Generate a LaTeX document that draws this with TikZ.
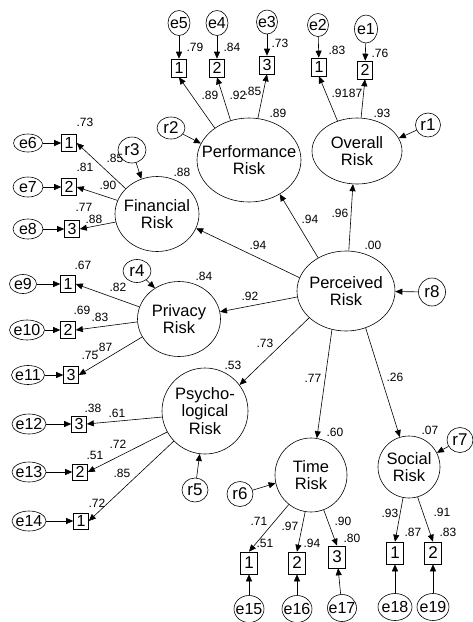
\documentclass[tikz,border=0pt]{standalone}
\usepackage{fontspec}
\setmainfont{Liberation Sans}
\usetikzlibrary{arrows.meta,shapes.geometric}
\begin{document}
\begin{tikzpicture}[x=1pt,y=-1pt,
  lat/.style={draw, ellipse, inner sep=0pt, line width=0.6pt},
  lt/.style={font=\fontsize{16.5}{17.5}\selectfont, align=center, inner sep=0pt},
  obs/.style={draw, rectangle, inner sep=0pt, line width=0.6pt, minimum width=15, minimum height=18, font=\fontsize{16}{16}\selectfont},
  obsb/.style={obs, minimum width=17, minimum height=22, font=\fontsize{17}{17}\selectfont},
  err/.style={draw, ellipse, inner sep=0pt, line width=0.6pt},
  et/.style={font=\fontsize{16}{16}\selectfont, inner sep=0pt},
  rt/.style={font=\fontsize{17}{17}\selectfont, inner sep=0pt},
  lab/.style={font=\fontsize{12}{12}\selectfont, inner sep=0pt},
  arr/.style={-{Triangle[length=7pt,width=6pt]}, line width=0.6pt}]
\useasboundingbox (0,0) rectangle (473,622);
% latent variables
\node[lat, minimum width=104, minimum height=84, label={[lt]center:Performance\\Risk}] (perf) at (249,160) {};
\node[lat, minimum width=90, minimum height=66, label={[lt]center:Overall\\Risk}] (over) at (357,151) {};
\node[lat, minimum width=84, minimum height=75, label={[lt]center:Financial\\Risk}] (fin) at (157,214) {};
\node[lat, minimum width=83, minimum height=75, label={[lt]center:Privacy\\Risk}] (priv) at (179,319) {};
\node[lat, minimum width=86, minimum height=86, label={[lt]center:Psycho-\\logical\\Risk}] (psy) at (205,411) {};
\node[lat, minimum width=72, minimum height=74, label={[lt]center:Time\\Risk}] (time) at (311,475) {};
\node[lat, minimum width=62, minimum height=62, label={[lt]center:Social\\Risk}] (soc) at (409,467) {};
\node[lat, minimum width=98, minimum height=80, label={[lt]center:Perceived\\Risk}] (perc) at (346,291) {};
% observed
\node[obs] (p1) at (179,68) {1};
\node[obs] (p2) at (217,68) {2};
\node[obs] (p3) at (267,65) {3};
\node[obs] (o1) at (319,67) {1};
\node[obs] (o2) at (365,70) {2};
\node[obs, minimum height=17] (f1) at (69,143) {1};
\node[obs, minimum height=17] (f2) at (69,187) {2};
\node[obs, minimum height=17] (f3) at (72,229) {3};
\node[obs, minimum height=17] (v1) at (68,284) {1};
\node[obs, minimum height=17] (v2) at (68,330) {2};
\node[obs, minimum height=17] (v3) at (71,375) {3};
\node[obs, minimum height=16] (s3) at (79,424) {3};
\node[obs, minimum height=16] (s2) at (80,472) {2};
\node[obs, minimum height=16] (s1) at (81,521) {1};
\node[obsb] (t1) at (249,563) {1};
\node[obsb] (t2) at (297,563) {2};
\node[obsb] (t3) at (337,557) {3};
\node[obsb] (c1) at (395,553) {1};
\node[obsb] (c2) at (433,553) {2};
% errors
\node[err, minimum width=22, minimum height=25, label={[et]center:e5}] (e5) at (179,23) {};
\node[err, minimum width=22, minimum height=25, label={[et]center:e4}] (e4) at (217,23) {};
\node[err, minimum width=21, minimum height=24, label={[et]center:e3}] (e3) at (267,22) {};
\node[err, minimum width=21, minimum height=23, label={[et]center:e2}] (e2) at (318,25) {};
\node[err, minimum width=23, minimum height=28, label={[et]center:e1}] (e1) at (366,29) {};
\node[err, minimum width=29, minimum height=18, label={[et]center:e6}] (e6) at (28,143) {};
\node[err, minimum width=30, minimum height=20, label={[et]center:e7}] (e7) at (28,187) {};
\node[err, minimum width=30, minimum height=20, label={[et]center:e8}] (e8) at (28,229) {};
\node[err, minimum width=27, minimum height=19, label={[et]center:e9}] (e9) at (23,284) {};
\node[err, minimum width=35, minimum height=20, label={[et]center:e10}] (e10) at (27,330) {};
\node[err, minimum width=33, minimum height=19, label={[et]center:e11}] (e11) at (28,375) {};
\node[err, minimum width=34, minimum height=20, label={[et]center:e12}] (e12) at (29,424) {};
\node[err, minimum width=34, minimum height=20, label={[et]center:e13}] (e13) at (29,472) {};
\node[err, minimum width=34, minimum height=20, label={[et]center:e14}] (e14) at (29,521) {};
\node[err, minimum width=30, minimum height=27, label={[et]center:e15}] (e15) at (249,609) {};
\node[err, minimum width=30, minimum height=27, label={[et]center:e16}] (e16) at (297,609) {};
\node[err, minimum width=29, minimum height=27, label={[et]center:e17}] (e17) at (342,608) {};
\node[err, minimum width=34, minimum height=27, label={[et]center:e18}] (e18) at (395,607) {};
\node[err, minimum width=32, minimum height=27, label={[et]center:e19}] (e19) at (433,607) {};
% residuals
\node[err, minimum width=25, minimum height=24, label={[rt]center:r1}] (r1) at (428,125) {};
\node[err, minimum width=28, minimum height=22, label={[rt]center:r2}] (r2) at (171,128) {};
\node[err, minimum width=28, minimum height=26, label={[rt]center:r3}] (r3) at (132,150) {};
\node[err, minimum width=28, minimum height=23, label={[rt]center:r4}] (r4) at (137,271) {};
\node[err, minimum width=26, minimum height=24, label={[rt]center:r5}] (r5) at (195,490) {};
\node[err, minimum width=26, minimum height=25, label={[rt]center:r6}] (r6) at (240,494) {};
\node[err, minimum width=26, minimum height=25, label={[rt]center:r7}] (r7) at (460,440) {};
\node[err, minimum width=27, minimum height=28, label={[rt]center:r8}] (r8) at (432,292) {};
% error arrows
\foreach \a/\b in {e5/p1,e4/p2,e3/p3,e2/o1,e1/o2,e6/f1,e7/f2,e8/f3,e9/v1,e10/v2,e11/v3,e12/s3,e13/s2,e14/s1,e15/t1,e16/t2,e17/t3,e18/c1,e19/c2}
  \draw[arr] (\a) -- (\b);
% loadings
\draw[arr] (perf.137) -- (p1.south);
\draw[arr] (perf.115) -- (p2.south);
\draw[arr] (perf.78) -- (p3.south);
\draw[arr] (over.123) -- (o1.south);
\draw[arr] (over.83) -- (o2.south);
\draw[arr] (fin.141) -- (f1.east);
\draw[arr] (fin.161) -- (f2.east);
\draw[arr] (fin.191) -- (f3.east);
\draw[arr] (priv.163) -- (v1.east);
\draw[arr] (priv.184) -- (v2.east);
\draw[arr] (priv.206) -- (v3.east);
\draw[arr] (psy.188) -- (s3.east);
\draw[arr] (psy.209) -- (s2.east);
\draw[arr] (psy.224) -- (s1.east);
\draw[arr] (time.233) -- (t1.north);
\draw[arr] (time.261) -- (t2.north);
\draw[arr] (time.290) -- (t3.north);
\draw[arr] (soc.259) -- (c1.north);
\draw[arr] (soc.286) -- (c2.north);
% residual arrows
\draw[arr] (r1) -- (over.17);
\draw[arr] (r2) -- (perf.161);
\draw[arr] (r3) -- (fin.114);
\draw[arr] (r4) -- (priv.128);
\draw[arr] (r5) -- (psy.263);
\draw[arr] (r6) -- (time.193);
\draw[arr] (r7) -- (soc.27);
\draw[arr] (r8) -- (perc);
% structural
\draw[arr] (perc.86) -- (over.-97);
\draw[arr] (perc.130) -- (perf.-48);
\draw[arr] (perc.164) -- (fin.-20);
\draw[arr] (perc.187) -- (priv.10);
\draw[arr] (perc.216) -- (psy.37);
\draw[arr] (perc.250) -- (time.81);
\draw[arr] (perc.298) -- (soc.107);
% labels
\node[lab] (l1) at (195,47) {.79};
\node[lab] (l2) at (232,47) {.84};
\node[lab] (l3) at (280,43) {.73};
\node[lab] (l4) at (210,95) {.89};
\node[lab] (l5) at (238,95) {.92};
\node[lab] (l6) at (253,91) {.85};
\node[lab] (l7) at (278,113) {.89};
\node[lab] (l8) at (337,50) {.83};
\node[lab] (l9) at (380,53) {.76};
\node[lab] (l10) at (340,93) {.91};
\node[lab] (l11) at (354,93) {.87};
\node[lab] (l12) at (382,113) {.93};
\node[lab] (l13) at (182,172) {.88};
\node[lab] (l14) at (85,122) {.73};
\node[lab] (l15) at (85,167) {.81};
\node[lab] (l16) at (84,207) {.77};
\node[lab] (l17) at (94,219) {.88};
\node[lab] (l18) at (115,158) {.85};
\node[lab] (l19) at (108,185) {.90};
\node[lab] (l20) at (204,276) {.84};
\node[lab] (l21) at (83,265) {.67};
\node[lab] (l22) at (118,287) {.82};
\node[lab] (l23) at (82,310) {.69};
\node[lab] (l24) at (100,317) {.83};
\node[lab] (l25) at (90,355) {.75};
\node[lab] (l26) at (104,347) {.87};
\node[lab] (l27) at (233,365) {.53};
\node[lab] (l28) at (93,408) {.38};
\node[lab] (l29) at (117,413) {.61};
\node[lab] (l30) at (95,455) {.51};
\node[lab] (l31) at (118,444) {.72};
\node[lab] (l32) at (97,503) {.72};
\node[lab] (l33) at (122,473) {.85};
\node[lab] (l34) at (335,432) {.60};
\node[lab] (l35) at (259,521) {.71};
\node[lab] (l36) at (265,543) {.51};
\node[lab] (l37) at (290,526) {.97};
\node[lab] (l38) at (312,543) {.94};
\node[lab] (l39) at (343,521) {.90};
\node[lab] (l40) at (352,538) {.80};
\node[lab] (l41) at (430,430) {.07};
\node[lab] (l42) at (390,513) {.93};
\node[lab] (l43) at (413,532) {.87};
\node[lab] (l44) at (442,512) {.91};
\node[lab] (l45) at (448,532) {.83};
\node[lab] (l46) at (310,219) {.94};
\node[lab] (l47) at (340,213) {.96};
\node[lab] (l48) at (373,245) {.00};
\node[lab] (l49) at (258,245) {.94};
\node[lab] (l50) at (250,296) {.92};
\node[lab] (l51) at (265,343) {.73};
\node[lab] (l52) at (313,378) {.77};
\node[lab] (l53) at (395,377) {.26};
\end{tikzpicture}
\end{document}
